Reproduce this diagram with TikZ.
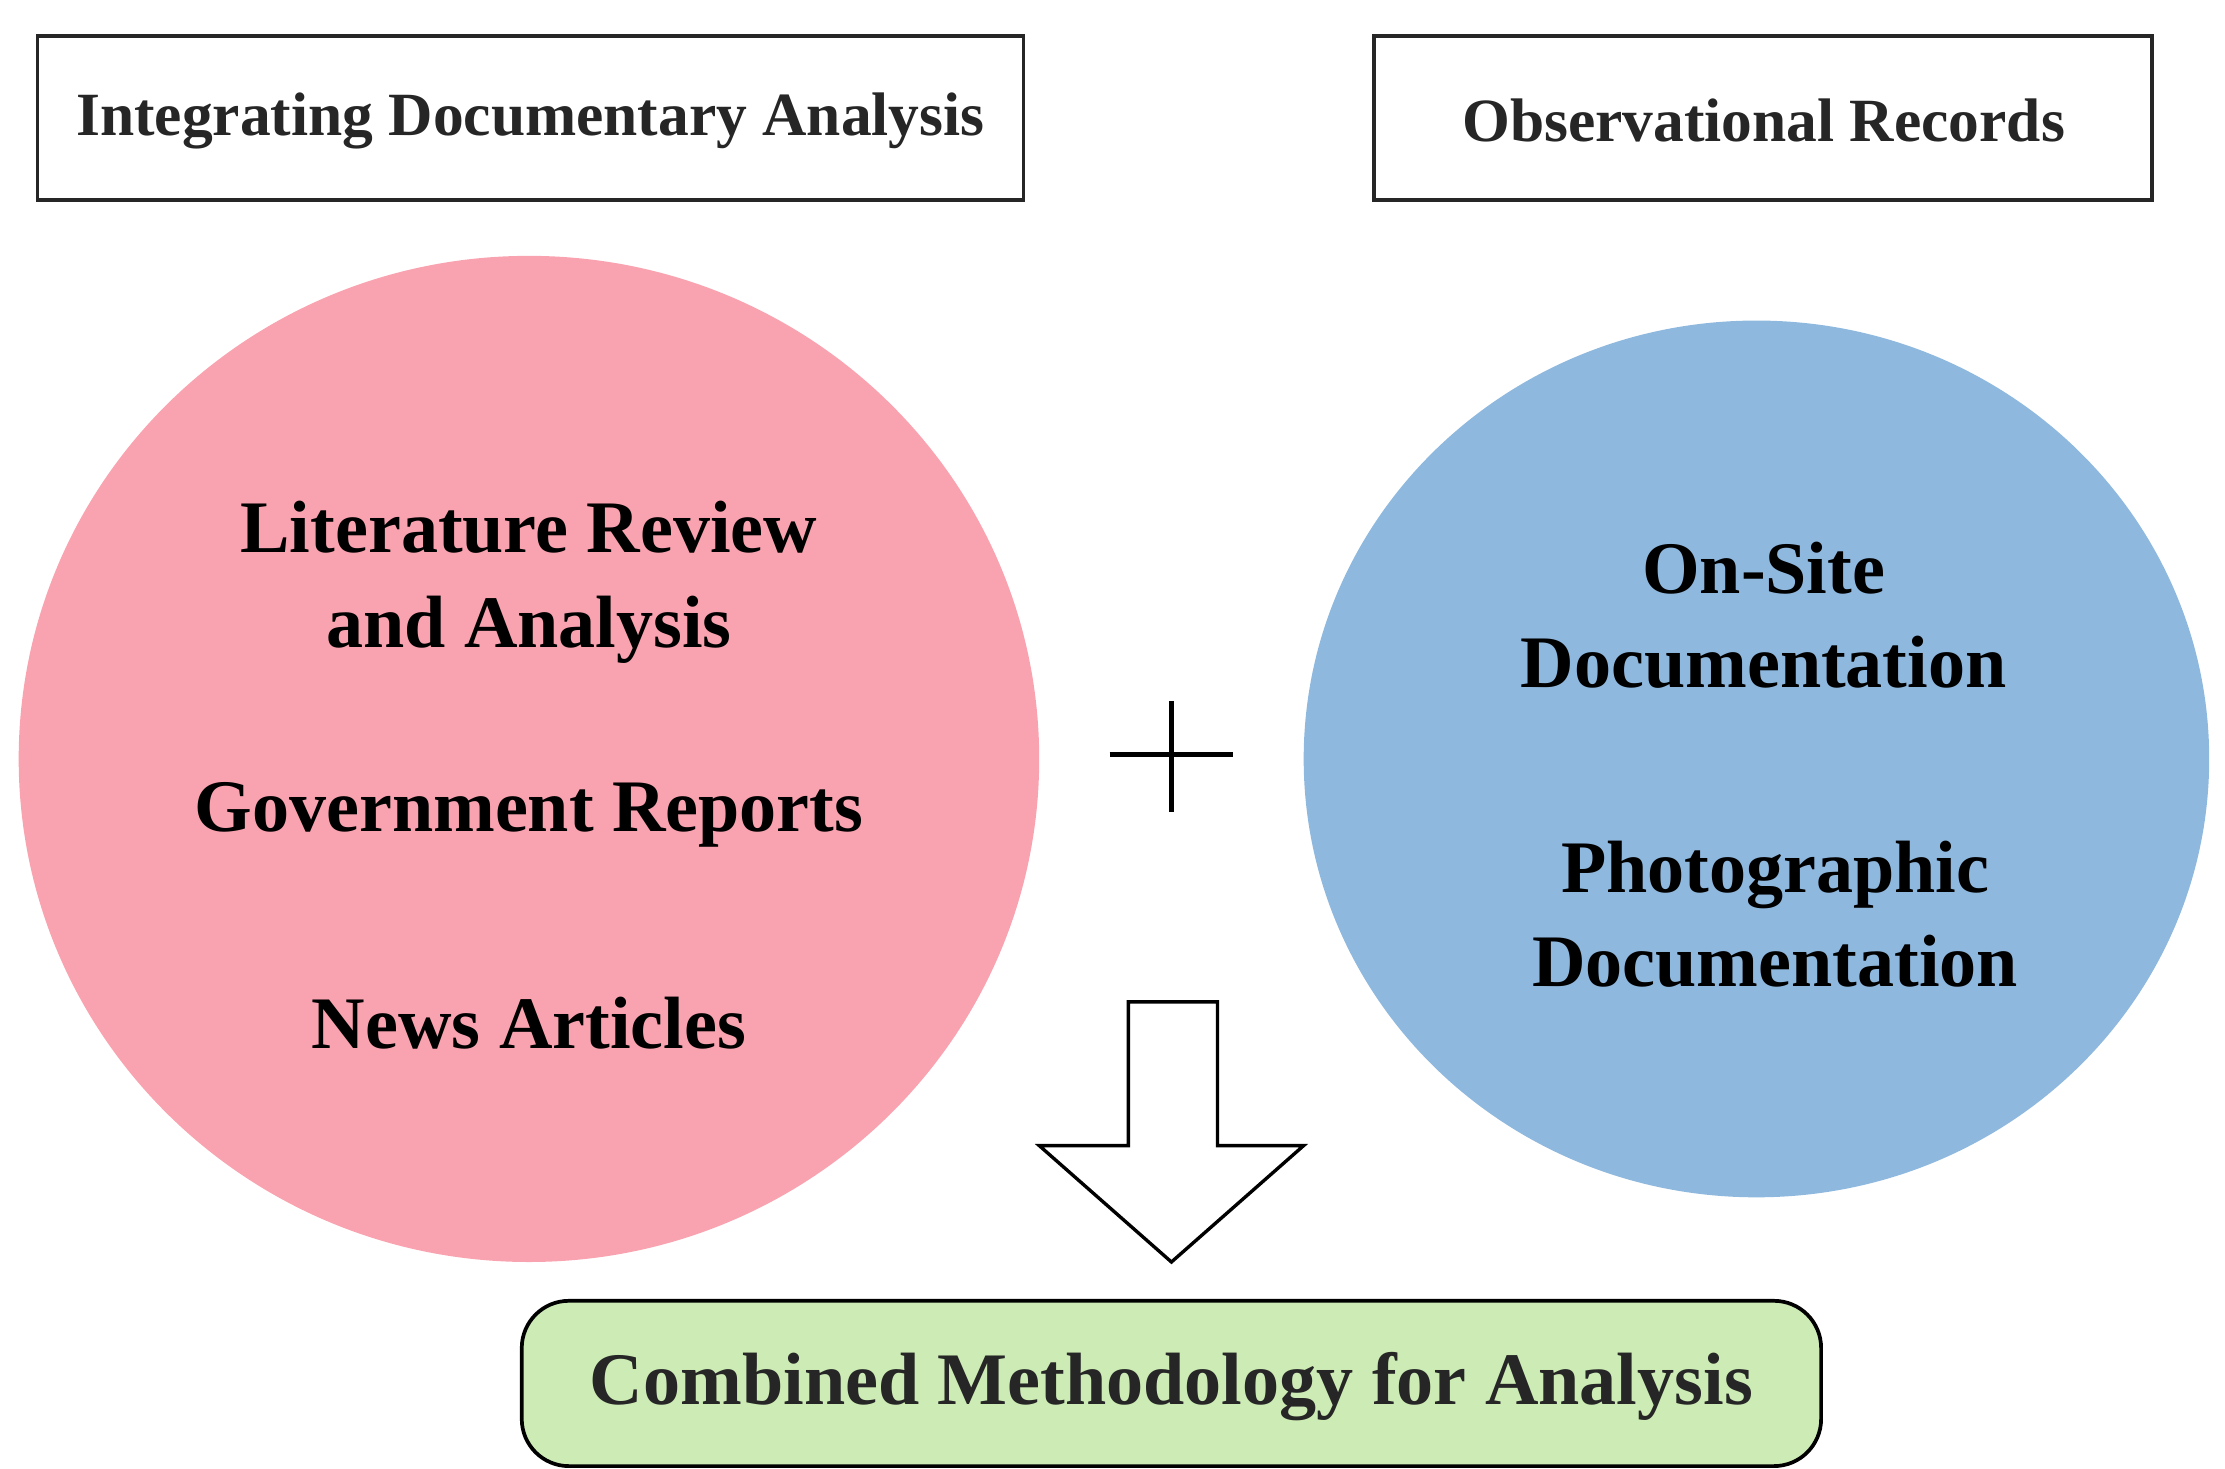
\documentclass[tikz,border=0pt]{standalone}
\usepackage{fontspec}
\setmainfont{Liberation Serif}
\usetikzlibrary{shapes.geometric}
\definecolor{pinkc}{HTML}{F9A3B0}
\definecolor{bluec}{HTML}{8FB8DE}
\definecolor{greenc}{HTML}{CDEBB5}
\newcommand{\fs}[1]{\fontsize{#1}{#1}\selectfont\bfseries}
\begin{document}
\begin{tikzpicture}[x=0.03cm,y=-0.03cm,
  hbox/.style={draw=black!85,line width=2.2pt,fill=white},
  lbl/.style={font=\fs{36.5},text=black!85},
  big/.style={font=\fs{44},align=center,text=black}]
\useasboundingbox (0,0) rectangle (1548,1022);
\draw[hbox] (26,25) rectangle (712,139);
\node[lbl] (t1) at (369,84) {Integrating Documentary Analysis};
\draw[hbox] (956,25) rectangle (1497,139);
\node[lbl] (t2) at (1227,84) {Observational Records};
\fill[pinkc] (368,528) ellipse [x radius=355, y radius=350];
\fill[bluec] (1222,528) ellipse [x radius=315, y radius=305];
\node[big] (a) at (368,405) {Literature Review\\[12pt]and Analysis};
\node[big] (b) at (368,567) {Government Reports};
\node[big] (c) at (368,712) {News Articles};
\node[big] (d) at (1227,428) {On-Site\\[12pt]Documentation};
\node[big] (e) at (1235,636) {Photographic\\[12pt]Documentation};
\draw[line width=3pt] (772,525) -- (858,525) (815,488) -- (815,565);
\draw[line width=2pt,fill=white] (785,697) -- (847,697) -- (847,797) -- (907,797) -- (815,878) -- (723,797) -- (785,797) -- cycle;
\draw[line width=2.2pt,fill=greenc,rounded corners=28] (363,905) rectangle (1267,1020);
\node[font=\fs{44},text=black!85] (f) at (815,965) {Combined Methodology for Analysis};
\end{tikzpicture}
\end{document}
